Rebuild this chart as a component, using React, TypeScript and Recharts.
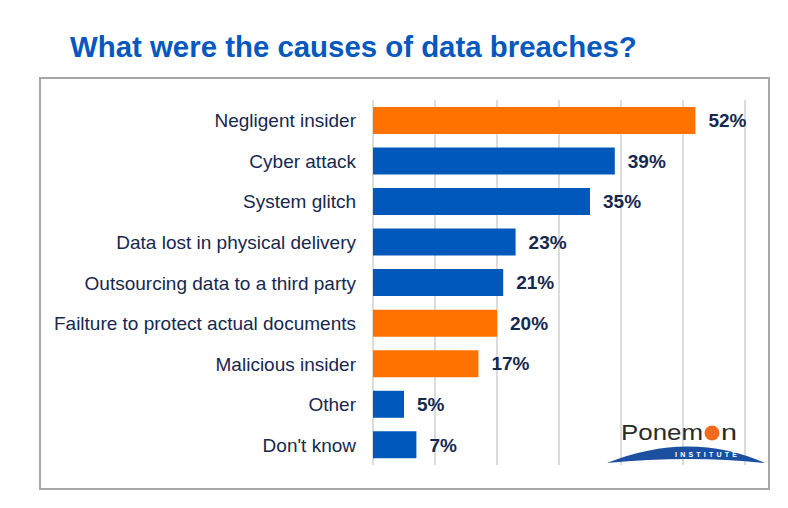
import React from 'react';
import { BarChart, Bar, XAxis, YAxis, CartesianGrid, LabelList, Cell } from 'recharts';

const causes = [
  'Negligent insider',
  'Cyber attack',
  'System glitch',
  'Data lost in physical delivery',
  'Outsourcing data to a third party',
  'Failture to protect actual documents',
  'Malicious insider',
  'Other',
  "Don't know",
];
const shares = [52, 39, 35, 23, 21, 20, 17, 5, 7];
const insiderRelated = [true, false, false, false, false, true, true, false, false];
const xTicks = [0, 10, 20, 30, 40, 50, 60];

const ORANGE = '#ff7200';
const BLUE = '#0058bb';
const NAVY = '#17284f';
const FONT = '"Liberation Sans", Arial, sans-serif';

const data = causes.map((name, i) => ({ name, value: shares[i], insider: insiderRelated[i] }));

const CategoryTick = (props: any) => {
  const { y, payload } = props;
  return (
    <text x={356} y={y} dy={7} textAnchor="end" fontSize={19} fill={NAVY} fontFamily={FONT}>
      {payload.value}
    </text>
  );
};

// Ponemon logo, drawn roughly in page coordinates
function Logo() {
  return (
    <svg width={788} height={508} style={{ position: 'absolute', left: 0, top: 0, pointerEvents: 'none' }}>
      <text x={621} y={440} fontSize={22} fill="#2a2a2a" fontFamily={FONT} textLength={82} lengthAdjust="spacingAndGlyphs">
        Ponem
      </text>
      <circle cx={712} cy={433} r={7.5} fill="#f26b21" />
      <text x={721} y={440} fontSize={22} fill="#2a2a2a" fontFamily={FONT} textLength={16} lengthAdjust="spacingAndGlyphs">
        n
      </text>
      <path d="M 607 463 Q 690 430 765 463 Q 690 455 607 463 Z" fill="#1b4fa0" />
      <text x={675} y={457} fontSize={7} fill="#fff" fontFamily={FONT} fontWeight="bold" textLength={62} lengthAdjust="spacing">
        INSTITUTE
      </text>
    </svg>
  );
}

export default function App() {
  return (
    <div style={{ position: 'absolute', left: 0, top: 0, width: 788, height: 508, background: '#fff', fontFamily: FONT }}>
      <div
        style={{
          position: 'absolute',
          left: 70,
          top: 30,
          fontSize: 29.4,
          fontWeight: 'bold',
          color: '#0558bd',
          whiteSpace: 'nowrap',
        }}
      >
        What were the causes of data breaches?
      </div>
      <div
        style={{
          position: 'absolute',
          left: 39,
          top: 77,
          width: 727,
          height: 409,
          border: '2px solid #a6a6a6',
        }}
      />
      <div style={{ position: 'absolute', left: 0, top: 0 }}>
        <BarChart
          width={788}
          height={508}
          layout="vertical"
          data={data}
          margin={{ top: 100, right: 43, bottom: 43, left: 40 }}
          barCategoryGap="17%"
        >
          <CartesianGrid horizontal={false} stroke="#dcdcdc" strokeWidth={2} />
          <XAxis type="number" domain={[0, 60]} ticks={xTicks} hide />
          <YAxis
            type="category"
            dataKey="name"
            width={333}
            axisLine={false}
            tickLine={false}
            tick={<CategoryTick />}
            interval={0}
          />
          <Bar dataKey="value" isAnimationActive={false}>
            {data.map((d) => (
              <Cell key={d.name} fill={d.insider ? ORANGE : BLUE} />
            ))}
            <LabelList
              dataKey="value"
              position="right"
              offset={13}
              formatter={(v: any) => `${v}%`}
              style={{ fontSize: 19, fontWeight: 'bold', fill: NAVY, fontFamily: FONT }}
            />
          </Bar>
        </BarChart>
      </div>
      <Logo />
    </div>
  );
}
